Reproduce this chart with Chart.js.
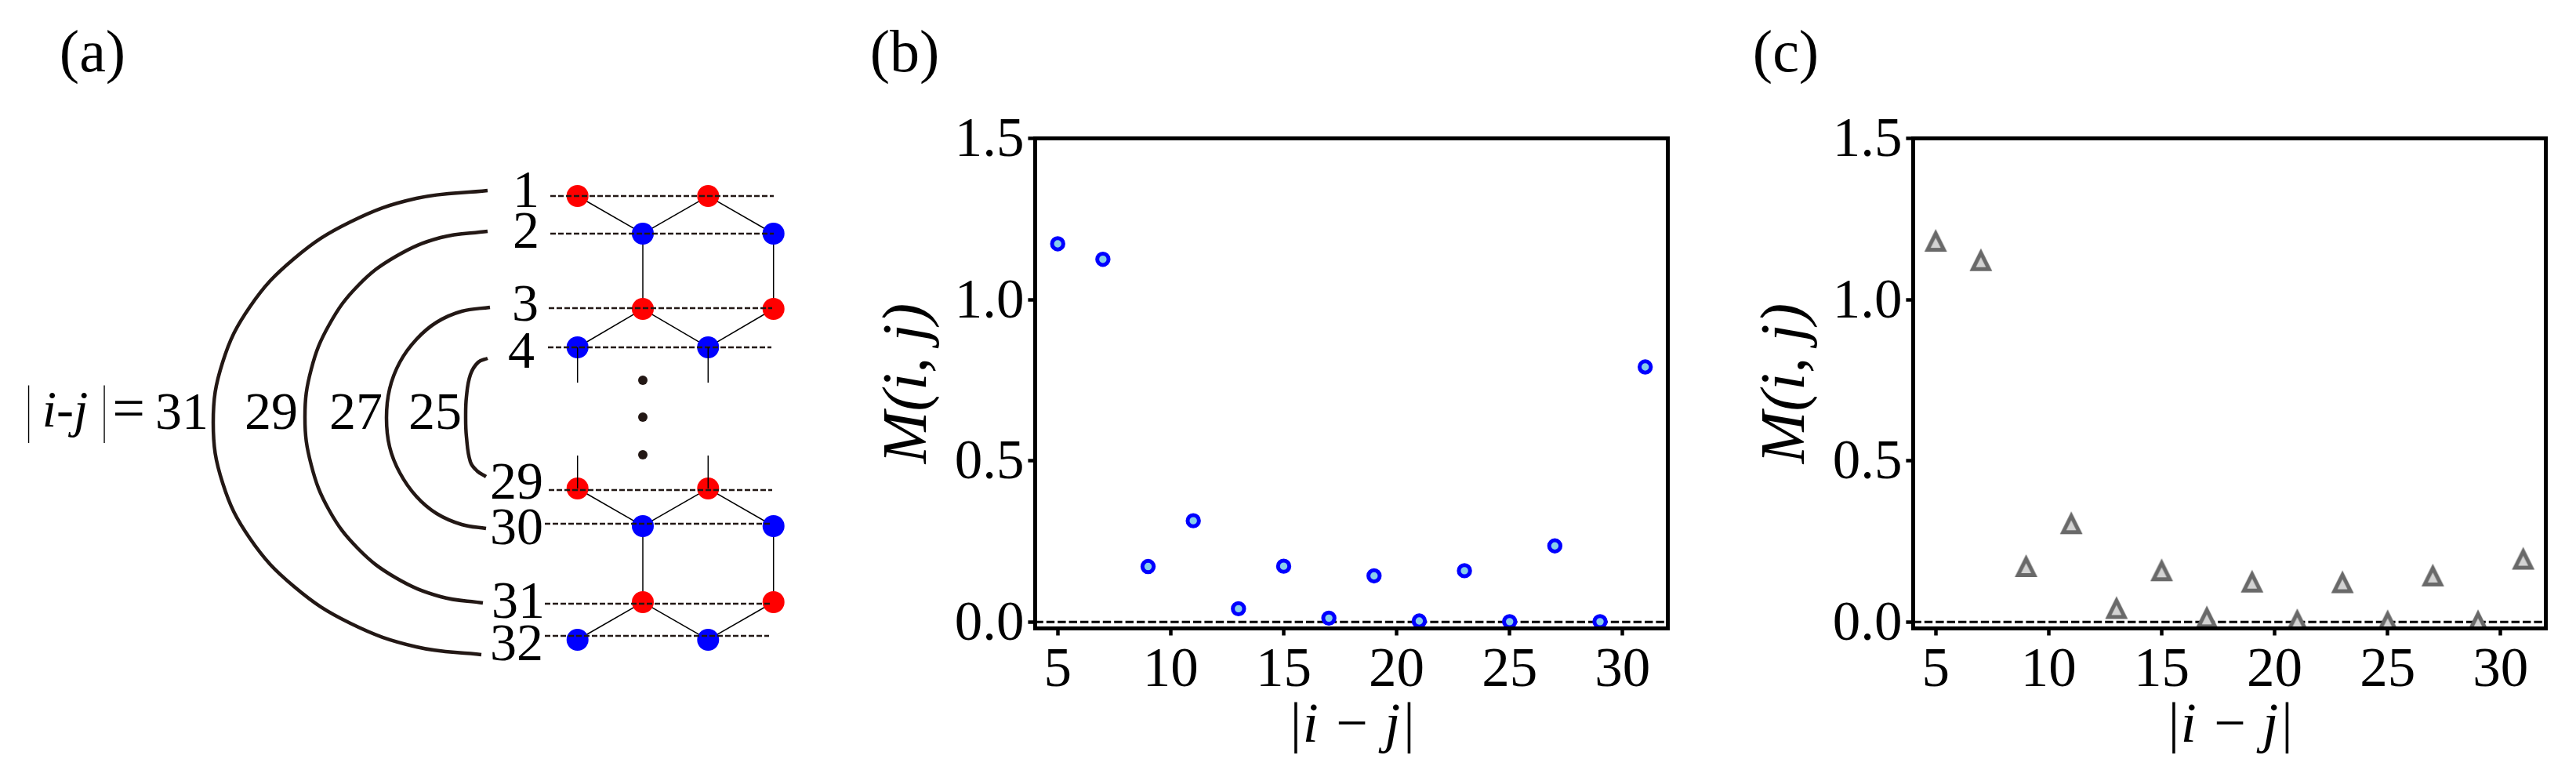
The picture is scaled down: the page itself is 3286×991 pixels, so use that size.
<!DOCTYPE html>
<html>
<head>
<meta charset="utf-8">
<title>M(i,j)</title>
<script src="https://cdn.jsdelivr.net/npm/chart.js@4"></script>
<style>
html, body { margin: 0; padding: 0; background: #fff; }
body { width: 3286px; height: 991px; position: relative; overflow: hidden; }
canvas { position: absolute; top: 0; }
</style>
</head>
<body>
<canvas id="panel-a" width="1040" height="991" style="left:0"></canvas>
<canvas id="panel-b" width="1050" height="991" style="left:1100px"></canvas>
<canvas id="panel-c" width="1050" height="991" style="left:2220px"></canvas>
<script>
// Values (b) and (c)
const distances = [5, 7, 9, 11, 13, 15, 17, 19, 21, 23, 25, 27, 29, 31];
const valuesB = [1.173, 1.125, 0.172, 0.314, 0.041, 0.173, 0.012, 0.143, 0.003, 0.159, 0.001, 0.236, 0.001, 0.791];
const valuesC = [1.180, 1.120, 0.171, 0.304, 0.041, 0.158, 0.012, 0.123, 0.003, 0.121, 0.000, 0.142, 0.000, 0.194];
const xTicks = [5, 10, 15, 20, 25, 30];
const yTicks = [0, 0.5, 1, 1.5];

// Panel (a) schematic, in the panel's own 1040x991 units
const redSitesX = [736.7, 903.3, 820, 986.7, 736.7, 903.3, 820, 986.7];
const redSitesY = [250, 250, 394, 394, 623, 623, 768, 768];
const blueSitesX = [820, 986.7, 736.7, 903.3, 820, 986.7, 736.7, 903.3];
const blueSitesY = [298, 298, 443, 443, 671, 671, 816, 816];
const dotsX = [820, 820, 820];
const dotsY = [485, 532, 580];
const levels = [
    [702, 987, 250], [702, 987, 298], [700, 985, 393], [699, 984, 443],
    [700, 985, 625], [695, 985, 668], [695, 985, 770], [695, 981, 811],
];
const bonds = [
    [[736.7, 250], [820, 298], [903.3, 250], [986.7, 298]],
    [[820, 298], [820, 394]],
    [[986.7, 298], [986.7, 394]],
    [[736.7, 443], [820, 394], [903.3, 443], [986.7, 394]],
    [[736.7, 623], [820, 671], [903.3, 623], [986.7, 671]],
    [[820, 671], [820, 768]],
    [[986.7, 671], [986.7, 768]],
    [[736.7, 816], [820, 768], [903.3, 816], [986.7, 768]],
];
const stubs = [
    [[736.7, 443], [736.7, 488]],
    [[903.3, 443], [903.3, 488]],
    [[736.7, 623], [736.7, 581]],
    [[903.3, 623], [903.3, 581]],
];
const arcs = [
    [[622, 243], [531, 253], [447, 283], [375, 330], [319, 391], [284, 462], [272, 539], [284, 616], [319, 687], [375, 748], [447, 795], [531, 825], [614, 835]],
    [[622, 295], [562, 303], [505, 327], [457, 364], [420, 414], [397, 471], [389, 532], [397, 593], [420, 651], [457, 700], [505, 737], [562, 761], [616, 769]],
    [[625, 392], [589, 397], [557, 411], [531, 433], [510, 462], [497, 496], [493, 533], [497, 570], [510, 603], [531, 633], [557, 655], [589, 669], [620, 674]],
    [[622, 457], [610, 462], [600, 478], [595, 506], [594, 532], [595, 557], [600, 589], [609, 601], [620, 608]],
];
const schematicLabels = [
    ['1', 671, 246], ['2', 671, 298], ['3', 670, 391], ['4', 665, 451],
    ['29', 659, 618], ['30', 659, 676], ['31', 661, 770], ['32', 659, 824],
    ['25', 555, 529], ['27', 454, 529], ['29', 346, 529], ['31', 232, 529],
];

const INK = '#231815';
const SERIF = "'Liberation Serif', serif";

Chart.defaults.font.family = SERIF;
Chart.defaults.color = '#000';
Chart.defaults.animation = false;

function pairs(xs, ys) {
    return xs.map((x, i) => ({ x: x, y: ys[i] }));
}

function toPoints(list) {
    return list.map(p => ({ x: p[0], y: p[1] }));
}

function drawLabel(ctx, text, x, y, font, scaleX) {
    ctx.save();
    ctx.translate(x, y);
    ctx.scale(scaleX || 1, 1);
    ctx.font = font;
    ctx.fillStyle = '#000';
    ctx.textAlign = 'center';
    ctx.textBaseline = 'middle';
    ctx.fillText(text, 0, 0);
    ctx.restore();
}

// matplotlib-like '^' marker, centred on its path
function triangleMarker() {
    const c = document.createElement('canvas');
    c.width = 40;
    c.height = 40;
    const g = c.getContext('2d');
    const r = 10.4;
    g.beginPath();
    g.moveTo(20, 20 - r);
    g.lineTo(20 + r, 20 + r);
    g.lineTo(20 - r, 20 + r);
    g.closePath();
    g.fillStyle = '#D3D3D3';
    g.fill();
    g.lineJoin = 'miter';
    g.lineWidth = 5;
    g.strokeStyle = '#696969';
    g.stroke();
    return c;
}

/**
 * Schematic of panel (a)
 */
function renderSchematic() {
    const line = (data, width, order, extra) => Object.assign({
        data: data,
        showLine: true,
        borderColor: '#000',
        borderWidth: width,
        pointRadius: 0,
        order: order,
    }, extra || {});

    const datasets = [];
    arcs.forEach(a => datasets.push(line(toPoints(a), 4.5, 5, { borderColor: INK, tension: 0.4 })));
    bonds.forEach(b => datasets.push(line(toPoints(b), 1.5, 4)));
    datasets.push({ data: pairs(redSitesX, redSitesY), pointRadius: 14, pointBackgroundColor: '#ff0000', pointBorderWidth: 0, order: 3 });
    datasets.push({ data: pairs(blueSitesX, blueSitesY), pointRadius: 14, pointBackgroundColor: '#0000ff', pointBorderWidth: 0, order: 3 });
    datasets.push({ data: pairs(dotsX, dotsY), pointRadius: 6, pointBackgroundColor: INK, pointBorderWidth: 0, order: 3 });
    levels.forEach(l => datasets.push(line([{ x: l[0], y: l[2] }, { x: l[1], y: l[2] }], 2.5, 2, { borderColor: INK, borderDash: [7, 3] })));
    stubs.forEach(s => datasets.push(line(toPoints(s), 1.5, 1)));

    new Chart(document.getElementById('panel-a'), {
        type: 'scatter',
        data: { datasets: datasets },
        options: {
            responsive: false,
            layout: { padding: 0, autoPadding: false },
            plugins: { legend: { display: false }, tooltip: { enabled: false } },
            scales: {
                x: { type: 'linear', min: 0, max: 1040, display: false },
                y: { type: 'linear', min: 0, max: 991, reverse: true, display: false },
            },
        },
        plugins: [{
            id: 'schematicText',
            afterDraw(chart) {
                const ctx = chart.ctx;
                drawLabel(ctx, '(a)', 118, 71, '76px ' + SERIF);
                schematicLabels.forEach(l => drawLabel(ctx, l[0], l[1], l[2], '68px ' + SERIF));
                drawLabel(ctx, '=', 164, 526, '74px ' + SERIF);
                drawLabel(ctx, 'i-j', 83, 527, 'italic 66px ' + SERIF);
                drawLabel(ctx, '|', 36.5, 527, '80px ' + SERIF, 0.35);
                drawLabel(ctx, '|', 133, 527, '80px ' + SERIF, 0.35);
            },
        }],
    });
}

/**
 * Scatter panels (b) and (c)
 */
function renderPanel(id, label, labelX, values, marker) {
    new Chart(document.getElementById(id), {
        type: 'scatter',
        data: {
            datasets: [
                Object.assign({ data: pairs(distances, values), order: 1 }, marker),
                {
                    data: [{ x: 4, y: 0 }, { x: 32, y: 0 }],
                    showLine: true,
                    borderColor: '#000',
                    borderWidth: 3,
                    borderDash: [10.4, 4],
                    pointRadius: 0,
                    order: 2,
                },
            ],
        },
        options: {
            responsive: false,
            layout: { padding: { top: 176.5, right: 22.5, left: 0, bottom: 0 } },
            plugins: { legend: { display: false }, tooltip: { enabled: false } },
            scales: {
                x: {
                    type: 'linear',
                    min: 4,
                    max: 32,
                    afterBuildTicks(scale) { scale.ticks = xTicks.map(v => ({ value: v })); },
                    afterFit(scale) { scale.height = 189.5; },
                    border: { display: false },
                    grid: { drawOnChartArea: false, tickLength: 9, tickWidth: 4.5, tickColor: '#000' },
                    ticks: { font: { size: 71 }, padding: 3, maxRotation: 0, autoSkip: false, callback: v => String(v) },
                    title: {
                        display: true,
                        text: '|i \u2212 j|',
                        font: { size: 72, style: 'italic' },
                        padding: { top: 0, bottom: 21 },
                    },
                },
                y: {
                    type: 'linear',
                    min: -0.02,
                    max: 1.5,
                    afterBuildTicks(scale) { scale.ticks = yTicks.map(v => ({ value: v })); },
                    afterFit(scale) { scale.width = 220.4; },
                    border: { display: false },
                    grid: { drawOnChartArea: false, tickLength: 9, tickWidth: 4.5, tickColor: '#000' },
                    ticks: { font: { size: 71 }, padding: 5, labelOffset: 4, autoSkip: false, callback: v => v.toFixed(1) },
                    title: {
                        display: true,
                        text: 'M(i, j)',
                        font: { size: 80, style: 'italic' },
                        padding: { top: 12, bottom: 0 },
                    },
                },
            },
        },
        plugins: [{
            id: 'frameAndLabel',
            afterDraw(chart) {
                const ctx = chart.ctx;
                const a = chart.chartArea;
                ctx.save();
                ctx.lineWidth = 5;
                ctx.strokeStyle = '#000';
                ctx.strokeRect(a.left, a.top, a.right - a.left, a.bottom - a.top);
                ctx.restore();
                drawLabel(ctx, label, labelX, 71, '76px ' + SERIF);
            },
        }],
    });
}

renderSchematic();
renderPanel('panel-b', '(b)', 54, valuesB, {
    pointRadius: 7.2,
    pointBorderWidth: 5,
    pointBorderColor: '#0000ff',
    pointBackgroundColor: '#87ceeb',
});
renderPanel('panel-c', '(c)', 58, valuesC, {
    pointStyle: triangleMarker(),
    pointRadius: 14,
});
</script>
</body>
</html>
